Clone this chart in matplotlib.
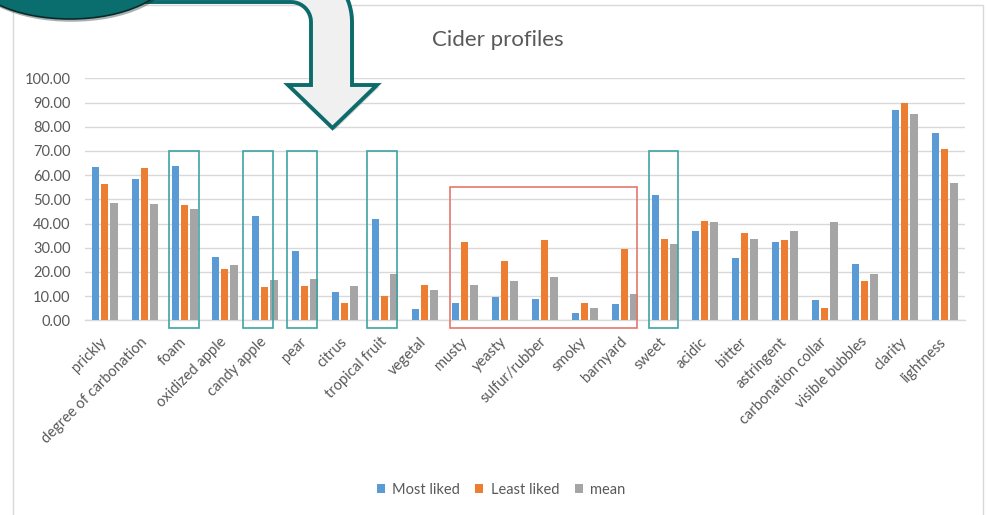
import numpy as np
import matplotlib
matplotlib.use("Agg")
import matplotlib.pyplot as plt
from matplotlib.patches import Rectangle, Ellipse, PathPatch
from matplotlib.path import Path
from matplotlib.transforms import Affine2D
import matplotlib.patheffects as pe

plt.rcParams["font.family"] = ["Lato", "DejaVu Sans"]

# ---- data -------------------------------------------------------------
categories = ["prickly", "degree of carbonation", "foam", "oxidized apple",
              "candy apple", "pear", "citrus", "tropical fruit", "vegetal",
              "musty", "yeasty", "sulfur/rubber", "smoky", "barnyard", "sweet",
              "acidic", "bitter", "astringent", "carbonation collar",
              "visible bubbles", "clarity", "lightness"]
most_liked = [63.5, 58.3, 63.9, 26.0, 43.2, 28.8, 11.6, 42.0, 4.5, 7.3, 9.8,
              8.8, 2.9, 6.6, 51.8, 37.0, 25.6, 32.4, 8.5, 23.4, 86.9, 77.3]
least_liked = [56.4, 62.8, 47.5, 21.1, 13.9, 14.3, 7.0, 10.2, 14.5, 32.4, 24.5,
               33.2, 7.3, 29.3, 33.6, 41.0, 36.2, 33.0, 5.0, 16.4, 89.9, 70.9]
mean = [48.3, 47.9, 45.9, 23.0, 16.7, 17.1, 14.3, 19.0, 12.4, 14.5, 16.2,
        17.9, 5.0, 10.9, 31.5, 40.5, 33.6, 36.9, 40.5, 19.0, 85.1, 56.9]
series_names = ["Most liked", "Least liked", "mean"]
y_ticks = [0, 10, 20, 30, 40, 50, 60, 70, 80, 90, 100]

# hand-drawn boxes around categories: (category, left pad, right pad)
liked_markers = [("foam", 0.395, 0.355), ("candy apple", 0.53, 0.205),
                 ("pear", 0.445, 0.305), ("tropical fruit", 0.43, 0.32),
                 ("sweet", 0.395, 0.33)]
off_flavours = ["musty", "yeasty", "sulfur/rubber", "smoky", "barnyard"]

# ---- styling ----------------------------------------------------------
colors = ["#5B9BD5", "#ED7D31", "#A5A5A5"]
text_gray = "#595959"
grid_gray = "#d9d9d9"
W, H = 988, 515

fig = plt.figure(figsize=(W / 100, H / 100), dpi=100)
fig.patch.set_facecolor("white")

# pixel-space transform (origin at top-left, y pointing down)
px = Affine2D().scale(1 / W, -1 / H).translate(0, 1) + fig.transFigure

# chart frame
fig.add_artist(Rectangle((13, 5), 970, 520, transform=px, facecolor="white",
                         edgecolor=grid_gray, lw=1.0, zorder=0))

ax = fig.add_axes([84.5 / W, (H - 320.3) / H, 880 / W, 242 / H])
ax.set_facecolor("none")

x = np.arange(len(categories))
step, bw = 0.235, 0.18
for k, (vals, c) in enumerate(zip([most_liked, least_liked, mean], colors)):
    ax.bar(x + (k - 1) * step, vals, width=bw, color=c, label=series_names[k],
           zorder=3)

ax.set_xlim(-0.5, len(categories) - 0.5)
ax.set_ylim(0, 100)
ax.set_yticks(y_ticks)
ax.set_yticklabels([f"{v:.2f}" for v in y_ticks])
ax.yaxis.grid(True, color=grid_gray, lw=1.0, zorder=0)
ax.set_axisbelow(True)
for s in ["top", "right", "left"]:
    ax.spines[s].set_visible(False)
ax.spines["bottom"].set_color(grid_gray)
ax.spines["bottom"].set_linewidth(1.0)
ax.tick_params(axis="both", length=0, colors=text_gray, labelsize=10.5)
ax.tick_params(axis="y", pad=10)
ax.set_xticks(x)
ax.set_xticklabels(categories, rotation=45, ha="right", va="center",
                   rotation_mode="anchor")
ax.tick_params(axis="x", pad=14)

# highlight boxes
for name, lpad, rpad in liked_markers:
    i = categories.index(name)
    ax.add_patch(Rectangle((i - lpad, -3), lpad + rpad, 73, fill=False,
                           edgecolor="#3fa3a6", lw=1.2, clip_on=False, zorder=4))
i0 = categories.index(off_flavours[0])
i1 = categories.index(off_flavours[-1])
ax.add_patch(Rectangle((i0 - 0.3625, -3), (i1 - i0) + 0.6825, 58, fill=False,
                       edgecolor="#e5786d", lw=1.2, clip_on=False, zorder=4))

# title
fig.text(498 / W, 1 - 40 / H, "Cider profiles", ha="center", va="center",
         fontsize=16, color=text_gray)

# legend
handles, labels = ax.get_legend_handles_labels()
fig.legend(handles, labels, loc="center", bbox_to_anchor=(501 / W, 1 - 490 / H),
           ncol=3, frameon=False, fontsize=10.5, labelcolor=text_gray,
           handlelength=0.55, handleheight=0.55, handletextpad=0.5,
           columnspacing=1.05)

# bent call-out arrow
R_out, R_in = 60, 20
cx, cy = 292, 22
t_out = np.linspace(np.pi / 2, 0, 20)
t_in = np.linspace(0, np.pi / 2, 12)
outer = np.column_stack([cx + R_out * np.cos(t_out), cy - R_out * np.sin(t_out)])
inner = np.column_stack([cx - 1 + R_in * np.cos(t_in), cy - R_in * np.sin(t_in)])
verts = np.vstack([
    [[100, -38]],
    outer,
    [[352, 85], [377, 85], [332.5, 128], [288, 85], [311, 85]],
    inner,
    [[100, 2], [100, -38]],
])
codes = [Path.MOVETO] + [Path.LINETO] * (len(verts) - 2) + [Path.CLOSEPOLY]
arrow = PathPatch(Path(verts, codes), transform=px, facecolor="#f0f0f0",
                  edgecolor="#0d6b6b", lw=2.8, joinstyle="miter", zorder=10)
arrow.set_path_effects([pe.SimplePatchShadow(offset=(1.5, -1.5), alpha=0.25),
                        pe.Normal()])
fig.add_artist(arrow)

# teal rounded banner corner
oval = Ellipse((70, -28.5), 200, 95, transform=px, facecolor="#0b6e6e",
               edgecolor="#0a2a2a", lw=1.2, zorder=11)
oval.set_path_effects([pe.SimplePatchShadow(offset=(1, -2), alpha=0.35),
                       pe.Normal()])
fig.add_artist(oval)

fig.savefig("out.png", dpi=100, facecolor="white")
